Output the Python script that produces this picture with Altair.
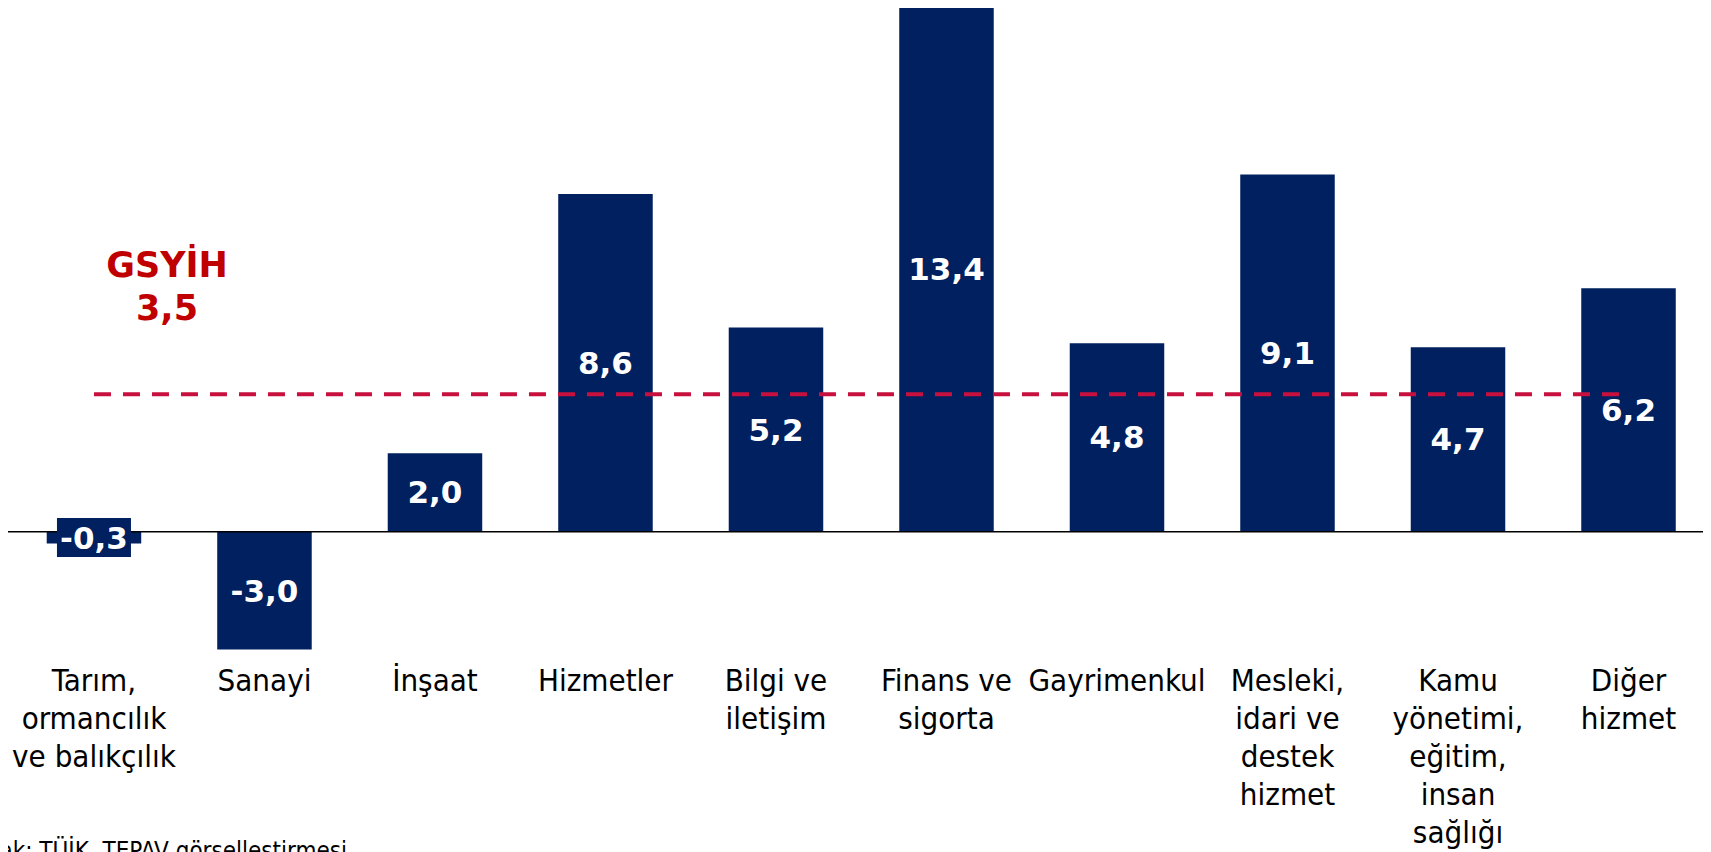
import altair as alt
import pandas as pd

categories = [
    "Tarım,\normancılık\nve balıkçılık",
    "Sanayi",
    "İnşaat",
    "Hizmetler",
    "Bilgi ve\niletişim",
    "Finans ve\nsigorta",
    "Gayrimenkul",
    "Mesleki,\nidari ve\ndestek\nhizmet",
    "Kamu\nyönetimi,\neğitim,\ninsan\nsağlığı",
    "Diğer\nhizmet",
]
values = [-0.3, -3.0, 2.0, 8.6, 5.2, 13.4, 4.8, 9.1, 4.7, 6.2]
gdp_growth = 3.5
gdp_title = "GSYİH"
source_text = "Kaynak: TÜİK, TEPAV görselleştirmesi"

NAVY = "#002060"
RED = "#C00000"
DASH = "#C8103E"
LABEL_FONT = "DejaVu Sans Condensed"

df = pd.DataFrame({
    "sector": categories,
    "value": values,
    "mid": [v / 2 for v in values],
    "label": [f"{v:.1f}".replace(".", ",") for v in values],
    "gdp": [gdp_growth] * len(values),
})

yscale = alt.Scale(domain=[-3.217, 13.34], nice=False, zero=False)

x = alt.X(
    "sector:N",
    sort=categories,
    scale=alt.Scale(paddingInner=0.4457, paddingOuter=0.1934, align=0.587, round=False),
    axis=alt.Axis(
        title=None, orient="bottom", domain=False, ticks=False, labelAngle=0,
        labelExpr="split(datum.value, '\\n')",
        labelFont=LABEL_FONT, labelFontSize=31, labelColor="#000000",
        labelLineHeight=38, labelPadding=8, labelOverlap=False,
        labelLimit=0, labelBaseline="top", labelBound=False,
    ),
)

base = alt.Chart(df).encode(x=x)

bars = base.mark_bar(color=NAVY).encode(
    y=alt.Y("value:Q", scale=yscale, axis=None)
)

zero = alt.Chart(pd.DataFrame({"zero": [0]})).mark_rule(
    color="#000000", strokeWidth=1.5
).encode(y=alt.Y("zero:Q", scale=yscale, axis=None))

gdp_line = base.mark_line(color=DASH, strokeDash=[17, 12], strokeWidth=4).encode(
    y=alt.Y("gdp:Q", scale=yscale, axis=None)
)

label_box = base.transform_filter("abs(datum.value) < 1").mark_point(
    shape="M-1,-0.527L1,-0.527L1,0.527L-1,0.527Z",
    size=5476, filled=True, color=NAVY, opacity=1,
).encode(y=alt.Y("mid:Q", scale=yscale, axis=None))

value_text = base.mark_text(
    font="DejaVu Sans", fontWeight="bold", fontSize=31, color="white",
    baseline="middle", dy=2,
).encode(y=alt.Y("mid:Q", scale=yscale, axis=None), text="label:N")

one = pd.DataFrame({"a": [0]})
gdp_note = alt.Chart(one).mark_text(
    text=[gdp_title, f"{gdp_growth:.1f}".replace(".", ",")],
    font="DejaVu Sans", fontWeight="bold", fontSize=35, color=RED,
    align="center", baseline="alphabetic", lineHeight=43,
).encode(x=alt.value(159), y=alt.value(269))

source = alt.Chart(one).mark_text(
    text=source_text, font=LABEL_FONT, fontSize=24, color="#000000",
    align="left", baseline="top",
).encode(x=alt.value(-62), y=alt.value(832))

chart = alt.layer(bars, zero, gdp_line, label_box, value_text, gdp_note, source).properties(
    width=1695, height=650,
    autosize=alt.AutoSizeParams(type="none"),
    padding={"left": 0, "top": 0, "right": 0, "bottom": 200},
    background="white",
).configure_view(stroke=None)

chart.save("out.html", embed_options={"renderer": "svg", "actions": False})
